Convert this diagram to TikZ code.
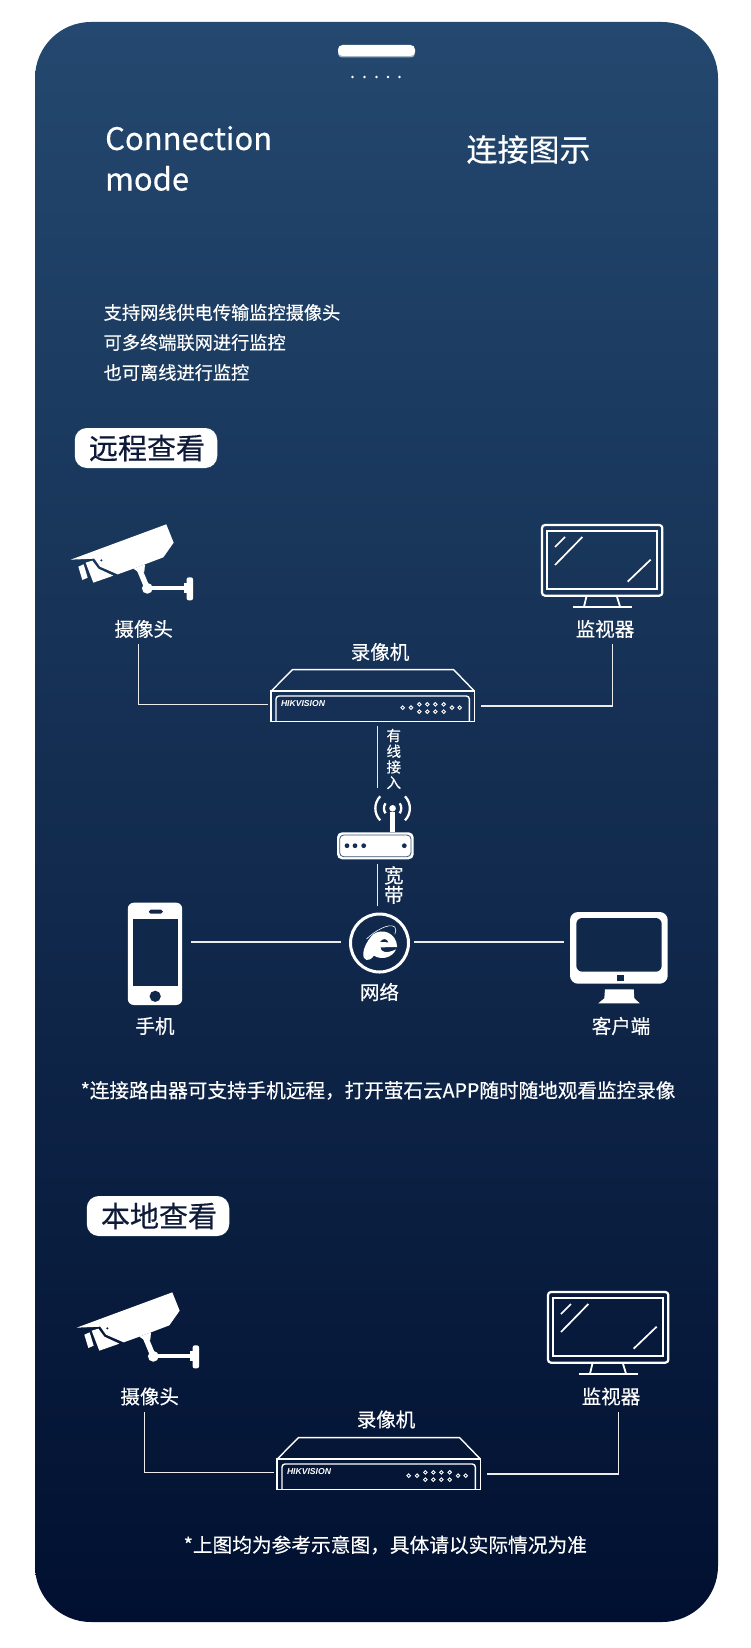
\documentclass[tikz,border=0pt]{standalone}
\usepackage{fontspec}
\usetikzlibrary{calc}
\setmainfont{Noto Sans CJK SC}[FakeBold=0.4]
\newfontfamily\hikfont{Liberation Sans}
\definecolor{cardtop}{HTML}{24486F}
\definecolor{cardbot}{HTML}{011030}
\definecolor{pilltext}{HTML}{0E1A38}
\definecolor{routerline}{HTML}{3A5472}
\newcommand{\fsz}[1]{\fontsize{#1}{#1}\selectfont}
\tikzset{
  txt/.style={text=white,inner sep=0pt,font=\fsz{#1}},
  lefttxt/.style={text=white,inner sep=0pt,anchor=base west,font=\fsz{#1}},
  conn/.style={draw=white!92!black,line width=1.5pt},
  tagpill/.style={fill=white,rounded corners=12pt,minimum width=142.5pt,minimum height=40pt,inner sep=0pt,text=pilltext,font=\fsz{29}},
  zoomgrid/.style={x=0.33333pt,y=-0.33333pt},
  pics/cameraicon/.style={code={
    \begin{scope}[zoomgrid]
      \fill[white,even odd rule] (17,119) -- (304,13) -- (326,68) -- (295,112) -- (208,145) -- (158,163) -- (105,140) -- (88,116) -- cycle (109,121) circle[radius=1.4pt];
      \fill[white] (62,128) -- (82,122) -- (100,146) -- (145,167) -- (85,188) -- cycle;
      \fill[white] (40,140) -- (56,133) -- (68,173) -- (52,180) -- cycle;
      \fill[white] (205,146) -- (240,133) -- (238,155) -- (226,160) -- cycle;
      \draw[white,line width=5.5pt] (224,150) -- (247,205);
      \fill[white] (247,205) circle[radius=5.4pt];
      \draw[white,line width=4.3pt] (247,205) -- (365,205);
      \fill[white,rounded corners=2pt] (365,172) rectangle (384,241);
      \fill[white] (357,190) rectangle (368,218);
    \end{scope}}},
  pics/monitoricon/.style={code={
    \begin{scope}[zoomgrid,line width=2.2pt]
      \draw[white,rounded corners=3pt] (516,75) rectangle (877,287);
      \draw[white] (532,93) rectangle (860,266);
      \draw[white,line width=1.7pt] (555,141) -- (585,111);
      \draw[white,line width=1.7pt] (555,195) -- (637,111);
      \draw[white,line width=1.7pt] (773,245) -- (842,179);
      \draw[white,line width=1.8pt] (650,287) -- (642,320);
      \draw[white,line width=1.8pt] (740,287) -- (750,320);
      \draw[white,line width=1.8pt] (608,320) -- (785,320);
    \end{scope}}},
  pics/dvricon/.style={code={
    \begin{scope}[zoomgrid,line width=1.4pt]
      \draw[white] (20,77) -- (82,14) -- (566,14) -- (627,77);
      \draw[white] (18,78) rectangle (628,170);
      \draw[white,rounded corners=3pt] (33,170) -- (33,93) -- (613,93) -- (613,170);
      \node[text=white,inner sep=0pt,anchor=west,font=\hikfont\fsz{8.6}\bfseries\itshape] (brand) at (46,116) {HIKVISION};
      \foreach \px/\py in {413/128,438/128,463/118,487/118,511/118,536/118,463/140,487/140,511/140,536/140,561/128,584/128}
        \draw[white,line width=0.9pt] (\px,\py) circle[radius=1.8pt];
    \end{scope}}}
}
\begin{document}
\begin{tikzpicture}[x=1pt,y=-1pt]
\useasboundingbox (0,0) rectangle (750,1648);
\fill[white] (0,0) rectangle (750,1648);
\shade[top color=cardtop,bottom color=cardbot,rounded corners=56pt] (35,22) rectangle (718,1622);
% top notch
\fill[white!60!cardtop,rounded corners=4pt] (338,47) rectangle (415,57.5);
\fill[white,rounded corners=4.5pt] (338,45) rectangle (415,56);
\foreach \dx in {352.5,364.5,376.5,388,399.5} \fill[white] (\dx,77) circle[radius=1.4pt];
% heading
\node[lefttxt=31] (titleA) at (105,150) {Connection};
\node[lefttxt=31] (titleB) at (105,190.5) {mode};
\node[txt=31] (titleC) at (528.5,149.5) {连接图示};
\node[lefttxt=18.2,anchor=west] (paraA) at (103.5,312.5) {支持网线供电传输监控摄像头};
\node[lefttxt=18.2,anchor=west] (paraB) at (103.5,342.5) {可多终端联网进行监控};
\node[lefttxt=18.2,anchor=west] (paraC) at (103.5,372.5) {也可离线进行监控};
\node[tagpill] (tagA) at (146,448) {\hspace{2pt}远程查看};
% remote section
\pic (camA) at (65,520) {cameraicon};
\pic (monA) at (370,500) {monitoricon};
\pic (dvrA) at (265,665) {dvricon};
\node[txt=19.5] (lblCamA) at (143.7,629) {摄像头};
\node[txt=19.5] (lblMonA) at (605,629) {监视器};
\node[txt=19.5] (lblDvrA) at (380,652) {录像机};
\coordinate (camEndA) at (138.5,644);
\coordinate (monEndA) at (612.5,644);
\coordinate (dvrLeftA) at (267.7,704.7);
\coordinate (dvrRightA) at (480.7,706);
\draw[conn] (camEndA) |- (dvrLeftA);
\draw[conn] (monEndA) |- (dvrRightA);
\coordinate (dvrDown) at (377.5,726);
\coordinate (routerUp) at (377.5,788);
\draw[conn] (dvrDown) -- (routerUp);
\node[txt=14,align=center,font=\fontsize{14.5}{15.7}\selectfont] (lblWired) at (393.8,759) {有\\线\\接\\入};
% router
\fill[white,rounded corners=5pt] (337,832.3) rectangle (413.7,859.3);
\draw[routerline,line width=0.8pt,rounded corners=4pt] (339.7,835) rectangle (411,856.7);
\foreach \rx in {347,355,363.7,404.3} \fill[cardtop!55!cardbot] (\rx,845.7) circle[radius=2.4pt];
\fill[white] (390,812) rectangle (395.2,832.3);
\fill[white] (392.6,808.3) circle[radius=3.3pt];
\coordinate (antA) at (392.6,808.3);
\draw[white,line width=2.3pt] ($(antA)+(7.1,-5)$) arc[start angle=35,end angle=-35,radius=8.7pt];
\draw[white,line width=2.3pt] ($(antA)+(-7.1,-5)$) arc[start angle=145,end angle=215,radius=8.7pt];
\draw[white,line width=2.3pt] ($(antA)+(12.4,-12)$) arc[start angle=44,end angle=-44,radius=17.3pt];
\draw[white,line width=2.3pt] ($(antA)+(-12.4,-12)$) arc[start angle=136,end angle=224,radius=17.3pt];
\coordinate (routerDown) at (377.5,864.3);
\coordinate (netUp) at (377.5,905.7);
\draw[conn] (routerDown) -- (netUp);
\node[txt=19,align=center,font=\fontsize{19.5}{19.5}\selectfont] (lblBroad) at (393.8,885) {宽\\带};
% network globe
\node[draw=white,line width=3pt,circle,minimum size=58pt,inner sep=0pt] (net) at (379.5,943) {};
\begin{scope}[shift={(340.5,905)},zoomgrid]
  \fill[white,even odd rule] (98,88) .. controls (125,68) and (168,83) .. (170,126) -- (120,127) .. controls (120,140) and (135,148) .. (167,133) .. controls (152,162) and (120,164) .. (100,152) .. controls (95,162) and (78,172) .. (70,158) .. controls (63,140) and (78,108) .. (98,88) -- cycle
   (118,111) .. controls (125,99) and (140,99) .. (144,112) -- cycle;
  \draw[white,line width=0.6pt] (78,102) .. controls (100,80) and (145,52) .. (163,66) .. controls (168,72) and (166,80) .. (163,88);
\end{scope}
\node[txt=19.5] (lblNet) at (379.5,992) {网络};
\coordinate (phoneR) at (191,942);
\coordinate (netL) at (341,942);
\coordinate (netR) at (414,942);
\coordinate (pcL) at (564,942);
\draw[conn] (phoneR) -- (netL);
\draw[conn] (netR) -- (pcL);
% phone
\fill[white,rounded corners=6pt] (127.8,902.7) rectangle (182.2,1005);
\fill[cardtop!42!cardbot] (132.8,919.3) rectangle (177.5,986.3);
\fill[cardtop!42!cardbot,rounded corners=1.8pt] (148.8,909.7) rectangle (162.8,913.7);
\fill[cardtop!42!cardbot] (155.2,996.3) circle[radius=5.6pt];
\node[txt=19.5] (lblPhone) at (155,1026) {手机};
% desktop
\fill[white,rounded corners=8pt] (570,912) rectangle (667.7,983.7);
\fill[cardtop!42!cardbot,rounded corners=6pt] (576.3,918) rectangle (661.7,971.7);
\fill[cardtop!42!cardbot] (617,975.3) rectangle (623.7,981.3);
\fill[white] (605,989.3) -- (633.7,989.3) -- (634.3,998.3) -- (639.7,1003.3) -- (598.3,1003.3) -- (604.3,998.3) -- cycle;
\node[txt=19.5] (lblPc) at (621,1026) {客户端};
\node[lefttxt=19.6,anchor=west] (noteA) at (80.5,1090.5) {*连接路由器可支持手机远程，打开萤石云APP随时随地观看监控录像};
% local section
\node[tagpill] (tagB) at (158,1216) {\hspace{2pt}本地查看};
\pic (camB) at (71,1288) {cameraicon};
\pic (monB) at (376,1267) {monitoricon};
\pic (dvrB) at (271,1433) {dvricon};
\node[txt=19.5] (lblCamB) at (149.7,1396.5) {摄像头};
\node[txt=19.5] (lblMonB) at (611,1396.5) {监视器};
\node[txt=19.5] (lblDvrB) at (386,1419.5) {录像机};
\coordinate (camEndB) at (144.5,1412);
\coordinate (monEndB) at (618.5,1412);
\coordinate (dvrLeftB) at (273.7,1472.7);
\coordinate (dvrRightB) at (486.7,1474);
\draw[conn] (camEndB) |- (dvrLeftB);
\draw[conn] (monEndB) |- (dvrRightB);
\node[lefttxt=19.7,anchor=west] (noteB) at (183.5,1545) {*上图均为参考示意图，具体请以实际情况为准};
\end{tikzpicture}
\end{document}
